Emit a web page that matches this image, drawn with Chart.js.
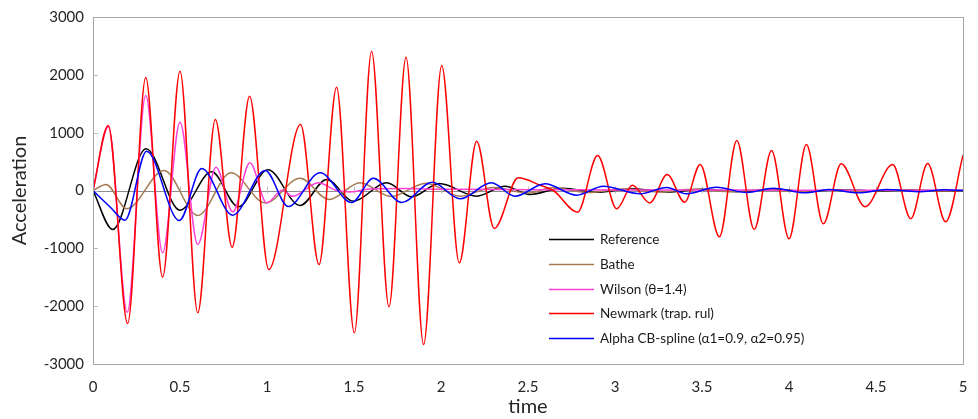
<!DOCTYPE html>
<html>
<head>
<meta charset="utf-8">
<script src="https://cdn.jsdelivr.net/npm/chart.js@4/dist/chart.umd.min.js"></script>
<style>
  html, body { margin: 0; padding: 0; background: #ffffff; }
  #wrap { width: 978px; height: 419px; }
</style>
</head>
<body>
<div id="wrap"><canvas id="chart" width="978" height="419"></canvas></div>
<script>
// Acceleration histories (extrema and turning points), time in seconds
const refTime = [0, 0.113, 0.305, 0.5, 0.682, 0.835, 1.005, 1.19, 1.343, 1.496, 1.688, 1.832, 1.99, 2.205, 2.368, 2.511, 2.7, 2.9, 3.1, 3.3, 3.5, 3.7, 3.9, 4.1, 4.3, 4.5, 4.7, 4.9, 5.0];
const refAcc  = [0, -674, 721, -340, 323, -283, 360, -259, 190, -185, 133, -110, 120, -98, 75, -69, 40, -30, 30, -25, 20, -20, 20, -15, 15, -10, 10, -10, 0];

const batheTime = [0, 0.075, 0.194, 0.408, 0.602, 0.793, 0.99, 1.19, 1.357, 1.535, 1.712, 1.913, 2.11, 2.3, 2.5, 2.64, 2.85, 3.05, 3.25, 3.45, 3.65, 3.85, 4.05, 4.25, 4.45, 4.65, 4.85, 5.0];
const batheAcc  = [0, 104, -317, 346, -432, 306, -215, 210, -156, 133, -104, 127, -98, 50, -45, 47, -35, 25, -25, 20, -20, 15, -15, 10, -10, 10, -10, 0];

const wilsonTime = [0, 0.088, 0.197, 0.303, 0.400, 0.500, 0.602, 0.707, 0.803, 0.902, 0.998, 1.09, 1.145, 1.295, 1.40, 1.48, 1.6, 1.8, 2.0, 2.5, 3.0, 3.5, 4.0, 4.5, 5.0];
const wilsonAcc  = [0, 1100, -2104, 1643, -1078, 1182, -934, 404, -369, 478, -213, 10, -100, 133, 0, -25, 30, 35, 20, 15, 10, 8, 5, 5, 5];

const newmarkTime = [0, 0.088, 0.199, 0.303, 0.400, 0.500, 0.602, 0.703, 0.800, 0.900, 1.010, 1.193, 1.299, 1.400, 1.502, 1.601, 1.701, 1.799, 1.900, 2.004, 2.105, 2.205, 2.306, 2.444, 2.569, 2.646, 2.785, 2.900, 3.010, 3.100, 3.200, 3.300, 3.400, 3.490, 3.600, 3.700, 3.800, 3.900, 4.000, 4.100, 4.197, 4.300, 4.437, 4.596, 4.700, 4.797, 4.900, 5.000];
const newmarkAcc  = [0, 1124, -2300, 1954, -1499, 2063, -2115, 1228, -980, 1631, -1366, 1141, -1280, 1787, -2461, 2409, -2012, 2305, -2663, 2161, -1251, 853, -657, 219, 92, 0, -375, 605, -317, 90, -215, 275, -202, 450, -801, 865, -674, 692, -835, 795, -577, 461, -280, 450, -489, 467, -541, 610];

const alphaTime = [0, 0.097, 0.184, 0.308, 0.496, 0.625, 0.803, 0.99, 1.122, 1.305, 1.487, 1.611, 1.774, 1.95, 2.109, 2.29, 2.425, 2.598, 2.78, 2.933, 3.144, 3.297, 3.41, 3.584, 3.757, 3.91, 4.09, 4.23, 4.40, 4.56, 4.74, 4.9, 5.0];
const alphaAcc  = [0, -280, -513, 680, -519, 380, -427, 346, -277, 306, -208, 210, -208, 142, -144, 133, -98, 115, -81, 75, -57, 52, -57, 57, -35, 40, -40, 17, -40, 17, -20, 15, 0];

const seriesNames = ['Reference', 'Bathe', 'Wilson (\u03B8=1.4)', 'Newmark (trap. rul)', 'Alpha CB-spline (\u03B11=0.9, \u03B12=0.95)'];
const seriesColors = ['#000000', '#A57A50', '#FF40D8', '#FF0000', '#0000FF'];

const xTicks = [0, 0.5, 1, 1.5, 2, 2.5, 3, 3.5, 4, 4.5, 5];
const yTicks = [-3000, -2000, -1000, 0, 1000, 2000, 3000];

const FONT = 'Lato, "Open Sans", "DejaVu Sans", sans-serif';

function pts(ts, vs) { return ts.map((t, i) => ({ x: t, y: vs[i] })); }

const seriesData = [
  pts(refTime, refAcc),
  pts(batheTime, batheAcc),
  pts(wilsonTime, wilsonAcc),
  pts(newmarkTime, newmarkAcc),
  pts(alphaTime, alphaAcc)
];

// Later series sit on top of earlier ones
const datasets = seriesData.map((d, i) => ({
  label: seriesNames[i],
  data: d,
  borderColor: seriesColors[i],
  backgroundColor: seriesColors[i],
  borderWidth: 1.5,
  pointRadius: 0,
  fill: false,
  cubicInterpolationMode: 'monotone',
  order: seriesNames.length - i
}));

// Frame, zero axis with tick marks, inside y tick marks and the in-plot legend
const framePlugin = {
  id: 'frame',
  beforeDatasetsDraw(chart) {
    const { ctx, chartArea: a, scales } = chart;
    const xs = scales.x, ys = scales.y;
    ctx.save();
    // zero line
    const y0 = Math.round(ys.getPixelForValue(0)) + 0.5;
    ctx.strokeStyle = '#8c8c8c';
    ctx.lineWidth = 1;
    ctx.beginPath();
    ctx.moveTo(a.left, y0);
    ctx.lineTo(a.right, y0);
    ctx.stroke();
    ctx.strokeStyle = '#bdbdbd';
    xTicks.forEach(v => {
      const x = Math.round(xs.getPixelForValue(v)) + 0.5;
      ctx.beginPath();
      ctx.moveTo(x, y0 - 5);
      ctx.lineTo(x, y0 + 2);
      ctx.stroke();
    });
    // y tick marks pointing into the plot
    yTicks.forEach(v => {
      const y = Math.round(ys.getPixelForValue(v)) + 0.5;
      ctx.beginPath();
      ctx.moveTo(a.left, y);
      ctx.lineTo(a.left + 5, y);
      ctx.stroke();
    });
    ctx.restore();
  },
  afterDatasetsDraw(chart) {
    const { ctx, chartArea: a } = chart;
    ctx.save();
    ctx.strokeStyle = '#a6a6a6';
    ctx.lineWidth = 1;
    ctx.strokeRect(Math.round(a.left) + 0.5, Math.round(a.top) + 0.5,
                   Math.round(a.right - a.left), Math.round(a.bottom - a.top));
    // legend
    const lx = 549, ly = 239, rowH = 24.8;
    ctx.font = '13.5px ' + FONT;
    ctx.textBaseline = 'middle';
    ctx.textAlign = 'left';
    chart.data.datasets.forEach((ds, i) => {
      const y = Math.round(ly + i * rowH) + 0.5;
      ctx.strokeStyle = ds.borderColor;
      ctx.lineWidth = 1.5;
      ctx.beginPath();
      ctx.moveTo(lx, y);
      ctx.lineTo(lx + 45, y);
      ctx.stroke();
      ctx.fillStyle = '#1a1a1a';
      ctx.fillText(ds.label, lx + 51, y);
    });
    ctx.restore();
  }
};

new Chart(document.getElementById('chart'), {
  type: 'line',
  data: { datasets },
  options: {
    responsive: false,
    animation: false,
    layout: { padding: { top: 17, right: 15, left: 0, bottom: 0 } },
    plugins: { legend: { display: false }, tooltip: { enabled: false } },
    scales: {
      x: {
        type: 'linear',
        min: 0, max: 5,
        afterBuildTicks(s) { s.ticks = xTicks.map(v => ({ value: v })); },
        afterFit(s) { s.height = 55; },
        grid: { display: false },
        border: { display: false },
        ticks: {
          color: '#262626',
          font: { family: FONT, size: 15 },
          padding: 6,
          maxRotation: 0,
          callback: v => String(v)
        },
        title: {
          display: true, text: 'time', color: '#262626',
          font: { family: FONT, size: 20 }, padding: { top: 0, bottom: 0 }
        }
      },
      y: {
        type: 'linear',
        min: -3000, max: 3000,
        afterBuildTicks(s) { s.ticks = yTicks.map(v => ({ value: v })); },
        afterFit(s) { s.width = 93; },
        grid: { display: false },
        border: { display: false },
        ticks: {
          color: '#262626',
          font: { family: FONT, size: 15 },
          padding: 1,
          callback: v => String(v)
        },
        title: {
          display: true, text: 'Acceleration', color: '#262626',
          font: { family: FONT, size: 20 }, padding: { top: 8, bottom: 4 }
        }
      }
    }
  },
  plugins: [framePlugin]
});
</script>
</body>
</html>
